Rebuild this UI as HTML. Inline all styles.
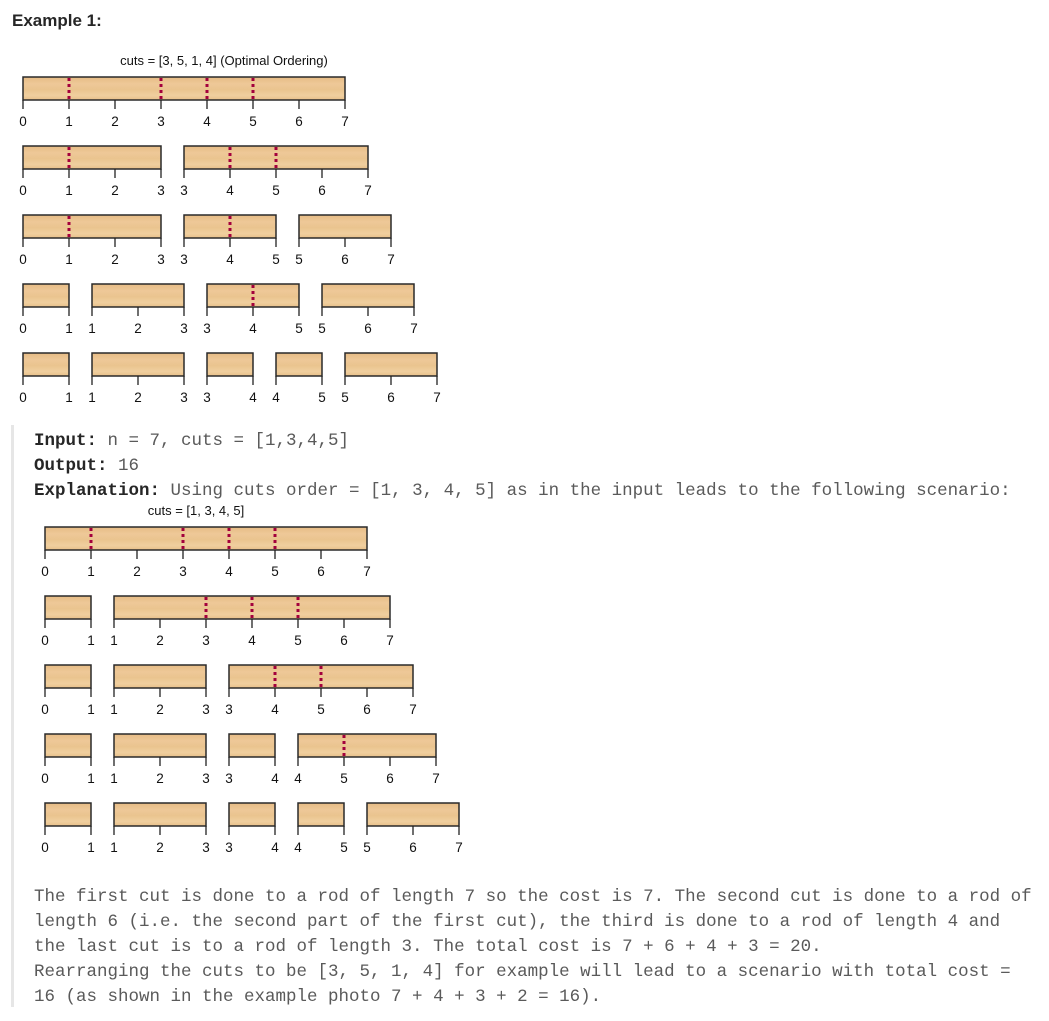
<!DOCTYPE html>
<html><head><meta charset="utf-8"><style>
html,body{margin:0;padding:0;background:#fff;}
svg{display:block;}
.m{font-family:"Liberation Mono",monospace;font-size:17.5px;fill:#5a5a5a;}
.b{font-weight:bold;fill:#262626;}
.n{font-family:"Liberation Sans",sans-serif;font-size:13.5px;fill:#111;text-anchor:middle;}
.r{fill:url(#w);stroke:#2a2a2a;stroke-width:1.5;}
.t{stroke:#222;stroke-width:1.3;fill:none;}
.c{stroke:#a3003c;stroke-width:3;stroke-dasharray:3,3;fill:none;}
</style></head><body>
<svg width="1049" height="1021" viewBox="0 0 1049 1021" xmlns="http://www.w3.org/2000/svg">
<defs><linearGradient id="w" x1="0" y1="0" x2="0" y2="1">
<stop offset="0" stop-color="#e6bc85"/><stop offset="0.3" stop-color="#eec898"/><stop offset="0.55" stop-color="#eac48f"/><stop offset="0.8" stop-color="#f0cf9f"/><stop offset="1" stop-color="#e8c08a"/></linearGradient></defs>
<text x="12" y="26" style="font-family:'Liberation Sans',sans-serif;font-size:17px;font-weight:bold;fill:#262626">Example 1:</text>
<text x="224" y="65" class="n" style="font-size:13px">cuts = [3, 5, 1, 4] (Optimal Ordering)</text>

<g>
<rect class="r" x="23" y="77" width="322" height="23"/>
<path class="c" d="M69 78v22M161 78v22M207 78v22M253 78v22"/>
<path class="t" d="M23 100v9M69 100v9M115 100v9M161 100v9M207 100v9M253 100v9M299 100v9M345 100v9"/>
<text class="n" y="126" x="23 69 115 161 207 253 299 345">01234567</text>
</g>
<g>
<rect class="r" x="23" y="146" width="138" height="23"/>
<rect class="r" x="184" y="146" width="184" height="23"/>
<path class="c" d="M69 147v22M230 147v22M276 147v22"/>
<path class="t" d="M23 169v9M69 169v9M115 169v9M161 169v9M184 169v9M230 169v9M276 169v9M322 169v9M368 169v9"/>
<text class="n" y="195" x="23 69 115 161 184 230 276 322 368">012334567</text>
</g>
<g>
<rect class="r" x="23" y="215" width="138" height="23"/>
<rect class="r" x="184" y="215" width="92" height="23"/>
<rect class="r" x="299" y="215" width="92" height="23"/>
<path class="c" d="M69 216v22M230 216v22"/>
<path class="t" d="M23 238v9M69 238v9M115 238v9M161 238v9M184 238v9M230 238v9M276 238v9M299 238v9M345 238v9M391 238v9"/>
<text class="n" y="264" x="23 69 115 161 184 230 276 299 345 391">0123345567</text>
</g>
<g>
<rect class="r" x="23" y="284" width="46" height="23"/>
<rect class="r" x="92" y="284" width="92" height="23"/>
<rect class="r" x="207" y="284" width="92" height="23"/>
<rect class="r" x="322" y="284" width="92" height="23"/>
<path class="c" d="M253 285v22"/>
<path class="t" d="M23 307v9M69 307v9M92 307v9M138 307v9M184 307v9M207 307v9M253 307v9M299 307v9M322 307v9M368 307v9M414 307v9"/>
<text class="n" y="333" x="23 69 92 138 184 207 253 299 322 368 414">01123345567</text>
</g>
<g>
<rect class="r" x="23" y="353" width="46" height="23"/>
<rect class="r" x="92" y="353" width="92" height="23"/>
<rect class="r" x="207" y="353" width="46" height="23"/>
<rect class="r" x="276" y="353" width="46" height="23"/>
<rect class="r" x="345" y="353" width="92" height="23"/>
<path class="t" d="M23 376v9M69 376v9M92 376v9M138 376v9M184 376v9M207 376v9M253 376v9M276 376v9M322 376v9M345 376v9M391 376v9M437 376v9"/>
<text class="n" y="402" x="23 69 92 138 184 207 253 276 322 345 391 437">011233445567</text>
</g>

<rect x="11" y="425" width="3" height="582" fill="#e6e6e6"/>
<text class="m" x="34" y="445"><tspan class="b">Input:</tspan> n = 7, cuts = [1,3,4,5]</text>
<text class="m" x="34" y="470"><tspan class="b">Output:</tspan> 16</text>
<text class="m" x="34" y="495"><tspan class="b">Explanation:</tspan> Using cuts order = [1, 3, 4, 5] as in the input leads to the following scenario:</text>
<text x="196" y="515" class="n" style="font-size:13px">cuts = [1, 3, 4, 5]</text>

<g>
<rect class="r" x="45" y="527" width="322" height="23"/>
<path class="c" d="M91 528v22M183 528v22M229 528v22M275 528v22"/>
<path class="t" d="M45 550v9M91 550v9M137 550v9M183 550v9M229 550v9M275 550v9M321 550v9M367 550v9"/>
<text class="n" y="576" x="45 91 137 183 229 275 321 367">01234567</text>
</g>
<g>
<rect class="r" x="45" y="596" width="46" height="23"/>
<rect class="r" x="114" y="596" width="276" height="23"/>
<path class="c" d="M206 597v22M252 597v22M298 597v22"/>
<path class="t" d="M45 619v9M91 619v9M114 619v9M160 619v9M206 619v9M252 619v9M298 619v9M344 619v9M390 619v9"/>
<text class="n" y="645" x="45 91 114 160 206 252 298 344 390">011234567</text>
</g>
<g>
<rect class="r" x="45" y="665" width="46" height="23"/>
<rect class="r" x="114" y="665" width="92" height="23"/>
<rect class="r" x="229" y="665" width="184" height="23"/>
<path class="c" d="M275 666v22M321 666v22"/>
<path class="t" d="M45 688v9M91 688v9M114 688v9M160 688v9M206 688v9M229 688v9M275 688v9M321 688v9M367 688v9M413 688v9"/>
<text class="n" y="714" x="45 91 114 160 206 229 275 321 367 413">0112334567</text>
</g>
<g>
<rect class="r" x="45" y="734" width="46" height="23"/>
<rect class="r" x="114" y="734" width="92" height="23"/>
<rect class="r" x="229" y="734" width="46" height="23"/>
<rect class="r" x="298" y="734" width="138" height="23"/>
<path class="c" d="M344 735v22"/>
<path class="t" d="M45 757v9M91 757v9M114 757v9M160 757v9M206 757v9M229 757v9M275 757v9M298 757v9M344 757v9M390 757v9M436 757v9"/>
<text class="n" y="783" x="45 91 114 160 206 229 275 298 344 390 436">01123344567</text>
</g>
<g>
<rect class="r" x="45" y="803" width="46" height="23"/>
<rect class="r" x="114" y="803" width="92" height="23"/>
<rect class="r" x="229" y="803" width="46" height="23"/>
<rect class="r" x="298" y="803" width="46" height="23"/>
<rect class="r" x="367" y="803" width="92" height="23"/>
<path class="t" d="M45 826v9M91 826v9M114 826v9M160 826v9M206 826v9M229 826v9M275 826v9M298 826v9M344 826v9M367 826v9M413 826v9M459 826v9"/>
<text class="n" y="852" x="45 91 114 160 206 229 275 298 344 367 413 459">011233445567</text>
</g>

<text class="m" x="34" y="901">The first cut is done to a rod of length 7 so the cost is 7. The second cut is done to a rod of</text>
<text class="m" x="34" y="926">length 6 (i.e. the second part of the first cut), the third is done to a rod of length 4 and</text>
<text class="m" x="34" y="951">the last cut is to a rod of length 3. The total cost is 7 + 6 + 4 + 3 = 20.</text>
<text class="m" x="34" y="976">Rearranging the cuts to be [3, 5, 1, 4] for example will lead to a scenario with total cost =</text>
<text class="m" x="34" y="1001">16 (as shown in the example photo 7 + 4 + 3 + 2 = 16).</text>
</svg>
</body></html>
